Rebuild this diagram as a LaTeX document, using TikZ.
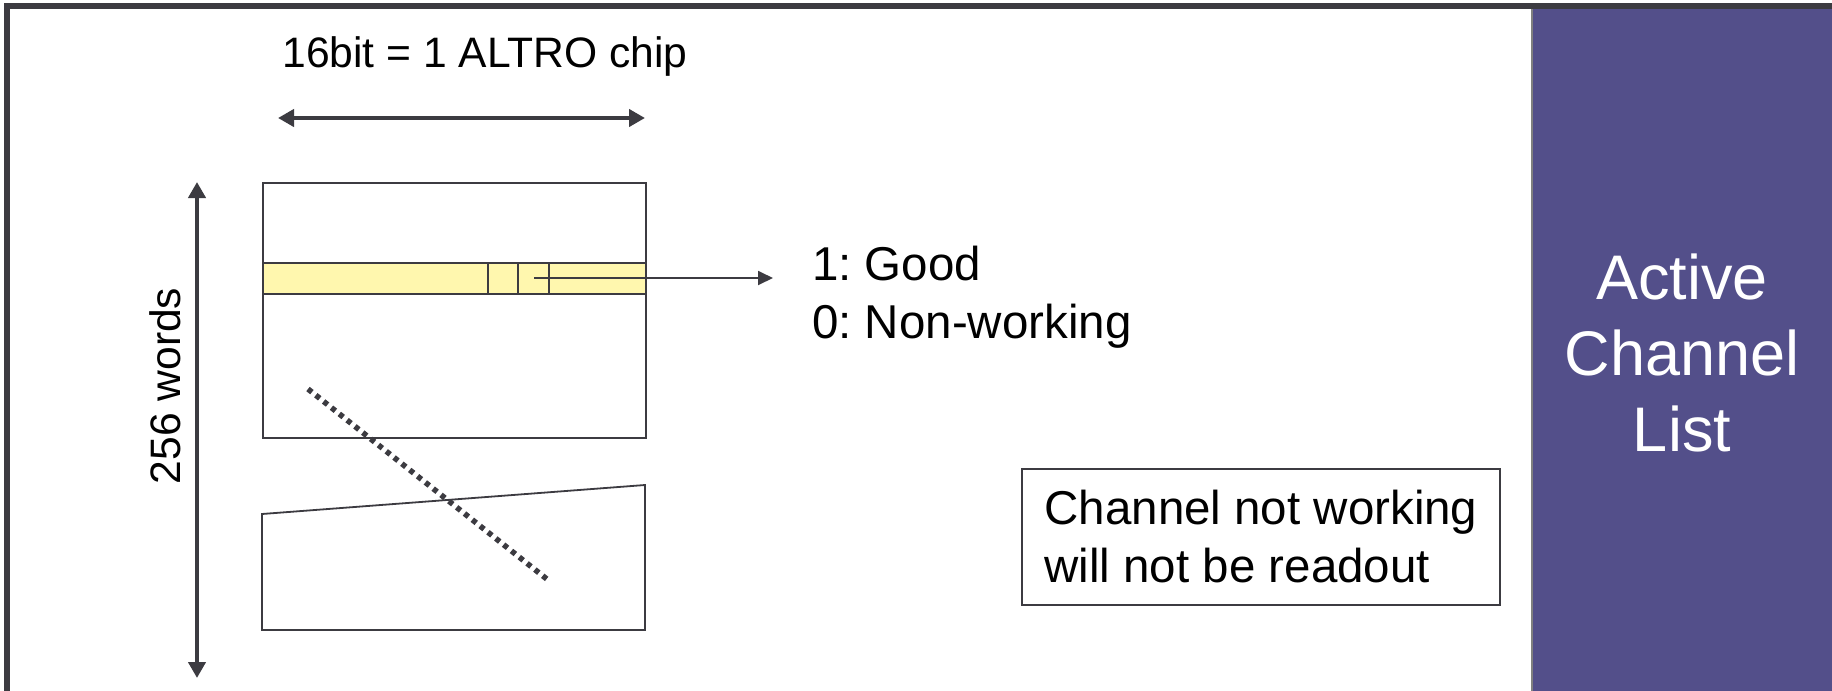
\documentclass[tikz,border=0pt]{standalone}
\usepackage{fontspec}
\setmainfont{Liberation Sans}
\usetikzlibrary{arrows.meta}
\definecolor{ink}{HTML}{3C3B41}
\definecolor{rowfill}{HTML}{FFF7AE}
\definecolor{panel}{HTML}{534F8A}
\frenchspacing
\begin{document}
\begin{tikzpicture}[x=1pt,y=-1pt,
  thinline/.style={draw=ink, line width=1.8pt},
  span/.style={draw=ink, line width=4.5pt,
    {Triangle[length=16pt,width=17pt]}-{Triangle[length=16pt,width=17pt]}},
  label/.style={inner sep=0pt, font=\fontsize{42.6}{51}\selectfont},
  note/.style={inner sep=0pt, align=left, font=\fontsize{47.5}{58}\selectfont},
  memblock/.style={thinline, inner sep=0pt, anchor=north west}]
\useasboundingbox (0,0) rectangle (1832,691);
\fill[white] (0,0) rectangle (1832,691);

% side panel
\fill[panel] (1532,9) rectangle (1832,691);
\draw[gray, line width=1.5pt] (1532,9) -- (1532,691);
\node[text=white, align=center, inner sep=0pt,
  font=\fontsize{63}{76}\selectfont] (acl) at (1682,353) {Active\\Channel\\List};

% outer frame
\draw[ink, line width=6pt] (7,691) -- (7,6) -- (1832,6);

% word-width and depth dimensions
\coordinate (wl) at (278,118);
\coordinate (wr) at (645,118);
\draw[span] (wl) -- (wr);
\node[label] (width) at (485,56) {16bit = 1 ALTRO chip};

\coordinate (dt) at (197,182);
\coordinate (db) at (197,678);
\draw[span] (dt) -- (db);
\node[label, rotate=90] (depth) at (165,386) {256 words};

% memory block, upper part
\node[memblock, minimum width=383pt, minimum height=255pt] (mem) at (262,182) {};
\node[memblock, fill=rowfill, minimum width=383pt, minimum height=31pt] (row) at (262,262) {};
\draw[thinline] (488,262) -- (488,293);
\draw[thinline] (518,262) -- (518,293);
\draw[thinline] (549,262) -- (549,293);

% bit meaning
\node[note, anchor=west] (codes) at (812,297) {1: Good\\0: Non-working};
\coordinate (bit) at (534,278);
\coordinate (bitend) at (773,278);
\draw[thinline, -{Triangle[length=15pt,width=14pt]}] (bit) -- (bitend);

% memory block, lower part (torn)
\draw[thinline] (262,514) -- (645,485) -- (645,630) -- (262,630) -- cycle;

% dotted cut line
\coordinate (cutA) at (308,389);
\coordinate (cutB) at (548,580);
\draw[ink, line width=5.5pt, dash pattern=on 5pt off 5pt] (cutA) -- (cutB);

% remark
\node[draw=ink, line width=1.8pt, note, inner xsep=20pt, minimum width=478pt,
  minimum height=136pt] (remark) at (1261,537)
  {Channel not working\\will not be readout};
\end{tikzpicture}
\end{document}
